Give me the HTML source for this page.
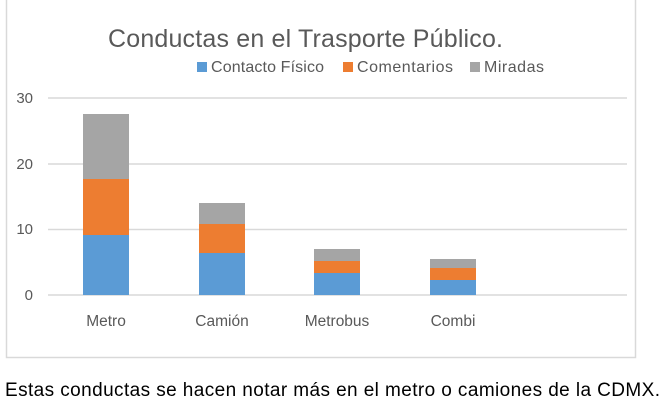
<!DOCTYPE html>
<html><head><meta charset="utf-8"><style>
body{margin:0;width:670px;height:409px;background:#fff;overflow:hidden;font-family:"Liberation Sans",sans-serif}
</style></head><body>
<svg width="670" height="409" xmlns="http://www.w3.org/2000/svg" font-family="Liberation Sans, sans-serif">
<rect x="6.5" y="-2" width="629" height="359.5" fill="#fff" stroke="#d9d9d9" stroke-width="1.5"/>
<text x="108" y="47" font-size="25" fill="#595959" textLength="395">Conductas en el Trasporte Público.</text>
<g font-size="16" fill="#595959">
<rect x="197" y="62" width="10" height="10" fill="#5b9bd5"/><text x="211" y="72" textLength="113">Contacto Físico</text>
<rect x="343" y="62" width="10" height="10" fill="#ed7d31"/><text x="357" y="72" textLength="96">Comentarios</text>
<rect x="470" y="62" width="10" height="10" fill="#a5a5a5"/><text x="484" y="72" textLength="60">Miradas</text>
</g>
<g stroke="#d9d9d9" stroke-width="1.5">
<line x1="48" y1="98" x2="627" y2="98"/><line x1="48" y1="164" x2="627" y2="164"/>
<line x1="48" y1="229.5" x2="627" y2="229.5"/><line x1="48" y1="295" x2="627" y2="295"/>
</g>
<g font-size="15" fill="#595959" text-anchor="end">
<text x="33" y="103">30</text><text x="33" y="169">20</text><text x="33" y="234">10</text><text x="33" y="300">0</text>
</g>
<rect x="83" y="114" width="46" height="65" fill="#a5a5a5"/>
<rect x="83" y="179" width="46" height="56" fill="#ed7d31"/>
<rect x="83" y="235" width="46" height="60" fill="#5b9bd5"/>
<rect x="199" y="203" width="46" height="21" fill="#a5a5a5"/>
<rect x="199" y="224" width="46" height="29" fill="#ed7d31"/>
<rect x="199" y="253" width="46" height="42" fill="#5b9bd5"/>
<rect x="314" y="249" width="46" height="12" fill="#a5a5a5"/>
<rect x="314" y="261" width="46" height="12" fill="#ed7d31"/>
<rect x="314" y="273" width="46" height="22" fill="#5b9bd5"/>
<rect x="430" y="259" width="46" height="9" fill="#a5a5a5"/>
<rect x="430" y="268" width="46" height="12" fill="#ed7d31"/>
<rect x="430" y="280" width="46" height="15" fill="#5b9bd5"/>
<g font-size="15.5" fill="#595959" text-anchor="middle">
<text x="106" y="326">Metro</text><text x="222" y="326">Camión</text><text x="337" y="326">Metrobus</text><text x="453" y="326">Combi</text>
</g>
<text x="5" y="396" font-size="19" fill="#000" textLength="655">Estas conductas se hacen notar más en el metro o camiones de la CDMX.</text>
</svg>
</body></html>
